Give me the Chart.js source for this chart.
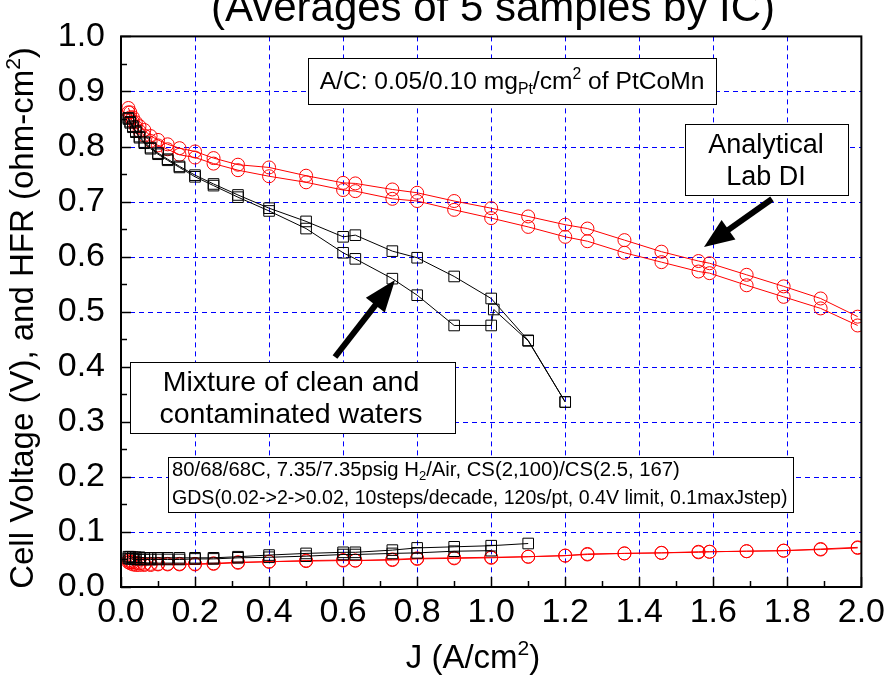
<!DOCTYPE html>
<html><head><meta charset="utf-8">
<script src="https://cdn.jsdelivr.net/npm/chart.js@4.4.0/dist/chart.umd.min.js"></script>
<style>html,body{margin:0;padding:0;background:#fff;overflow:hidden}#wrap{width:890px;height:676px;position:relative}</style>
</head><body><div id="wrap"><canvas id="c" width="890" height="676"></canvas></div>
<script>
// ---------- data ----------
const J_RED = [0.02,0.025,0.032,0.04,0.05,0.063,0.08,0.1,0.126,0.158,0.2,0.25,0.316,0.4,0.5,0.6,0.633,0.733,0.8,0.9,1.0,1.1,1.2,1.26,1.36,1.46,1.56,1.59,1.69,1.79,1.89,1.99];
const V_RED_A = [0.870,0.862,0.853,0.844,0.837,0.830,0.819,0.812,0.804,0.797,0.791,0.779,0.767,0.762,0.747,0.734,0.733,0.722,0.716,0.701,0.688,0.673,0.658,0.651,0.630,0.609,0.592,0.588,0.567,0.546,0.524,0.491];
const V_RED_B = [0.862,0.853,0.845,0.836,0.828,0.820,0.810,0.802,0.795,0.785,0.780,0.769,0.757,0.746,0.735,0.721,0.719,0.705,0.701,0.685,0.670,0.654,0.636,0.628,0.607,0.590,0.573,0.570,0.548,0.527,0.506,0.475];
const HFR_RED_A = [0.048,0.046,0.045,0.044,0.043,0.042,0.042,0.042,0.042,0.042,0.042,0.043,0.045,0.046,0.048,0.049,0.048,0.050,0.052,0.053,0.054,0.055,0.057,0.060,0.061,0.062,0.064,0.064,0.065,0.066,0.069,0.072];
const HFR_RED_B = [0.045,0.043,0.041,0.040,0.040,0.040,0.040,0.041,0.041,0.041,0.041,0.042,0.044,0.046,0.047,0.048,0.048,0.049,0.051,0.052,0.053,0.055,0.057,0.059,0.061,0.062,0.063,0.064,0.065,0.066,0.068,0.071];

const J_BLK_A = [0.02,0.025,0.032,0.04,0.05,0.063,0.08,0.1,0.126,0.158,0.2,0.25,0.316,0.4,0.5,0.6,0.633,0.733,0.8,0.9,1.0,1.1,1.2];
const V_BLK_A = [0.852,0.845,0.837,0.828,0.818,0.808,0.798,0.788,0.777,0.764,0.748,0.732,0.712,0.688,0.664,0.636,0.639,0.610,0.598,0.564,0.524,0.448,0.336];
const J_BLK_B = [0.02,0.025,0.032,0.04,0.05,0.063,0.08,0.1,0.126,0.158,0.2,0.25,0.316,0.4,0.5,0.6,0.633,0.733,0.8,0.9,1.0,1.007,1.1,1.2];
const V_BLK_B = [0.850,0.843,0.835,0.826,0.816,0.806,0.796,0.786,0.775,0.762,0.745,0.729,0.708,0.683,0.651,0.607,0.596,0.560,0.530,0.475,0.475,0.504,0.447,0.336];
const J_HFR_BLK_A = [0.02,0.025,0.032,0.04,0.05,0.063,0.08,0.1,0.126,0.158,0.2,0.25,0.316,0.4,0.5,0.6,0.633,0.733,0.8,0.9,1.0,1.1];
const HFR_BLK_A = [0.055,0.055,0.054,0.054,0.054,0.053,0.053,0.053,0.053,0.053,0.053,0.053,0.055,0.058,0.061,0.063,0.063,0.067,0.071,0.073,0.075,0.079];
const J_HFR_BLK_B = [0.02,0.025,0.032,0.04,0.05,0.063,0.08,0.1,0.126,0.158,0.2,0.25,0.316,0.4,0.5,0.6,0.633,0.733,0.8,0.9,1.0];
const HFR_BLK_B = [0.052,0.051,0.051,0.050,0.050,0.050,0.050,0.050,0.050,0.050,0.051,0.051,0.053,0.054,0.056,0.059,0.059,0.061,0.062,0.065,0.066];

const X_TICK_LABELS = ['0.0','0.2','0.4','0.6','0.8','1.0','1.2','1.4','1.6','1.8','2.0'];
const Y_TICK_LABELS = ['0.0','0.1','0.2','0.3','0.4','0.5','0.6','0.7','0.8','0.9','1.0'];

const TITLE = '(Averages of 5 samples by IC)';
const Y_TITLE = [{t:'Cell Voltage (V), and HFR (ohm-cm'},{t:'2',m:'sup'},{t:')'}];
const X_TITLE = [{t:'J (A/cm'},{t:'2',m:'sup'},{t:')'}];
const NOTE_AC = [{t:'A/C: 0.05/0.10 mg'},{t:'Pt',m:'sub'},{t:'/cm'},{t:'2',m:'sup'},{t:' of PtCoMn'}];
const NOTE_LAB = ['Analytical','Lab DI'];
const NOTE_MIX = ['Mixture of clean and','contaminated waters'];
const NOTE_COND1 = [{t:'80/68/68C, 7.35/7.35psig H'},{t:'2',m:'sub'},{t:'/Air, CS(2,100)/CS(2.5, 167)'}];
const NOTE_COND2 = [{t:'GDS(0.02->2->0.02, 10steps/decade, 120s/pt, 0.4V limit, 0.1maxJstep)'}];

// ---------- helpers ----------
const FONT = '"Liberation Sans", Arial, Helvetica, sans-serif';
const pts = (xs, ys) => xs.map((x, i) => ({x, y: ys[i]}));

function segSize(sg, size){ return sg.m ? size*0.64 : size; }
function richWidth(ctx, segs, size){
  let w = 0;
  for (const sg of segs){ ctx.font = segSize(sg,size)+'px '+FONT; w += ctx.measureText(sg.t).width; }
  return w;
}
function drawRich(ctx, segs, x, y, size, align, fitW){
  if (fitW) size = size * fitW / richWidth(ctx, segs, size);
  const w = richWidth(ctx, segs, size);
  let cx = align === 'center' ? x - w/2 : (align === 'right' ? x - w : x);
  ctx.textAlign = 'left'; ctx.textBaseline = 'alphabetic';
  for (const sg of segs){
    ctx.font = segSize(sg,size)+'px '+FONT;
    const dy = sg.m === 'sub' ? size*0.2 : (sg.m === 'sup' ? -size*0.4 : 0);
    ctx.fillText(sg.t, cx, y + dy);
    cx += ctx.measureText(sg.t).width;
  }
}
function box(ctx, x, y, w, h){
  ctx.fillStyle = '#fff'; ctx.fillRect(x, y, w, h);
  ctx.strokeStyle = '#000'; ctx.lineWidth = 1; ctx.setLineDash([]); ctx.strokeRect(x+0.5, y+0.5, w, h);
  ctx.fillStyle = '#000';
}
function arrow(ctx, x1, y1, x2, y2, lw, hl, hw){
  const a = Math.atan2(y2-y1, x2-x1);
  const bx = x2 - hl*Math.cos(a), by = y2 - hl*Math.sin(a);
  ctx.strokeStyle = '#000'; ctx.fillStyle = '#000'; ctx.lineWidth = lw; ctx.lineCap = 'butt'; ctx.setLineDash([]);
  ctx.beginPath(); ctx.moveTo(x1, y1); ctx.lineTo(bx + 2*Math.cos(a), by + 2*Math.sin(a)); ctx.stroke();
  ctx.beginPath(); ctx.moveTo(x2, y2);
  ctx.lineTo(bx + hw/2*Math.sin(a), by - hw/2*Math.cos(a));
  ctx.lineTo(bx - hw/2*Math.sin(a), by + hw/2*Math.cos(a));
  ctx.closePath(); ctx.fill();
}

const grid = {
  id: 'bluegrid',
  beforeDatasetsDraw(chart){
    const ctx = chart.ctx, ca = chart.chartArea;
    const xs = chart.scales.x, ys = chart.scales.y;
    ctx.save();
    ctx.strokeStyle = '#0000ff'; ctx.lineWidth = 1; ctx.setLineDash([5, 4]);
    for (let i = 1; i < X_TICK_LABELS.length - 1; i++){
      const px = Math.round(xs.getPixelForValue(i*0.2)) + 0.5;
      ctx.beginPath(); ctx.moveTo(px, ca.top); ctx.lineTo(px, ca.bottom); ctx.stroke();
    }
    for (let i = 1; i < Y_TICK_LABELS.length - 1; i++){
      const py = Math.round(ys.getPixelForValue(i*0.1)) + 0.5;
      ctx.beginPath(); ctx.moveTo(ca.left, py); ctx.lineTo(ca.right, py); ctx.stroke();
    }
    ctx.restore();
  }
};

const decor = {
  id: 'decor',
  afterDatasetsDraw(chart){
    const ctx = chart.ctx, ca = chart.chartArea;
    const xs = chart.scales.x, ys = chart.scales.y;
    ctx.save();
    ctx.setLineDash([]);
    // inward ticks
    ctx.strokeStyle = '#000'; ctx.lineWidth = 1.5;
    for (let i = 0; i <= 20; i++){
      const px = Math.round(xs.getPixelForValue(i*0.1)) + 0.5;
      const L = i % 2 === 0 ? 10 : 6;
      ctx.beginPath(); ctx.moveTo(px, ca.bottom); ctx.lineTo(px, ca.bottom - L); ctx.stroke();
    }
    for (let i = 0; i <= 20; i++){
      const py = Math.round(ys.getPixelForValue(i*0.05)) + 0.5;
      const L = i % 2 === 0 ? 10 : 6;
      ctx.beginPath(); ctx.moveTo(ca.left, py); ctx.lineTo(ca.left + L, py); ctx.stroke();
    }
    // frame
    ctx.lineWidth = 2; ctx.strokeStyle = '#000';
    ctx.strokeRect(ca.left, ca.top, ca.right - ca.left, ca.bottom - ca.top);

    // annotation boxes
    box(ctx, 308, 58, 408, 46);
    drawRich(ctx, NOTE_AC, 512, 89, 24, 'center', 385);

    box(ctx, 685, 124, 163, 71);
    ctx.font = '27px '+FONT; ctx.textAlign = 'center'; ctx.textBaseline = 'alphabetic';
    ctx.fillText(NOTE_LAB[0], 766, 153);
    ctx.fillText(NOTE_LAB[1], 766, 185);

    box(ctx, 130, 362, 325, 71);
    ctx.font = '28.5px '+FONT; ctx.textAlign = 'center';
    ctx.fillText(NOTE_MIX[0], 291, 391);
    ctx.fillText(NOTE_MIX[1], 291, 423);

    box(ctx, 168, 457, 625, 55);
    drawRich(ctx, NOTE_COND1, 172, 476, 19, 'left', 508);
    drawRich(ctx, NOTE_COND2, 172, 504, 19, 'left', 616);

    arrow(ctx, 772, 199, 704, 247, 6, 30, 24);
    arrow(ctx, 335, 357, 395, 280, 6, 32, 24);

    // titles
    ctx.fillStyle = '#000';
    ctx.font = '42px '+FONT; ctx.textAlign = 'center'; ctx.textBaseline = 'alphabetic';
    ctx.fillText(TITLE, 493, 21);
    drawRich(ctx, X_TITLE, 473, 668, 33, 'center');
    ctx.save();
    ctx.translate(33, 318); ctx.rotate(-Math.PI/2);
    drawRich(ctx, Y_TITLE, 0, 0, 33, 'center');
    ctx.restore();
    ctx.restore();
  }
};

const RED = '#ff0000', BLK = '#000000';
function ds(data, color, style, radius){
  return { data, showLine: true, borderColor: color, backgroundColor: 'rgba(0,0,0,0)',
    borderWidth: 1, pointStyle: style, pointRadius: radius, pointBorderColor: color,
    pointBackgroundColor: 'rgba(0,0,0,0)', pointBorderWidth: 1, tension: 0 };
}

new Chart(document.getElementById('c'), {
  type: 'scatter',
  data: { datasets: [
    ds(pts(J_BLK_A, V_BLK_A), BLK, 'rect', 7.5),
    ds(pts(J_BLK_B, V_BLK_B), BLK, 'rect', 7.5),
    ds(pts(J_HFR_BLK_A, HFR_BLK_A), BLK, 'rect', 7.5),
    ds(pts(J_HFR_BLK_B, HFR_BLK_B), BLK, 'rect', 7.5),
    ds(pts(J_RED, V_RED_A), RED, 'circle', 6.5),
    ds(pts(J_RED, V_RED_B), RED, 'circle', 6.5),
    ds(pts(J_RED, HFR_RED_A), RED, 'circle', 6.5),
    ds(pts(J_RED, HFR_RED_B), RED, 'circle', 6.5)
  ]},
  options: {
    responsive: false, animation: false, devicePixelRatio: 1,
    layout: { padding: { left: 0, top: 28, right: 26, bottom: 0 } },
    plugins: { legend: { display: false }, tooltip: { enabled: false }, title: { display: false } },
    scales: {
      x: { type: 'linear', min: 0, max: 2,
        afterFit(s){ s.height = 89; },
        ticks: { stepSize: 0.2, color: '#000', padding: 5, maxRotation: 0, autoSkip: false,
          font: { family: FONT, size: 34 },
          callback: (v) => X_TICK_LABELS[Math.round(v/0.2)] },
        grid: { display: false, drawTicks: false },
        border: { display: false } },
      y: { type: 'linear', min: 0, max: 1,
        afterFit(s){ s.width = 121; },
        ticks: { stepSize: 0.1, color: '#000', padding: 16, autoSkip: false,
          font: { family: FONT, size: 34 },
          callback: (v) => Y_TICK_LABELS[Math.round(v/0.1)] },
        grid: { display: false, drawTicks: false },
        border: { display: false } }
    }
  },
  plugins: [grid, decor]
});
</script></body></html>
